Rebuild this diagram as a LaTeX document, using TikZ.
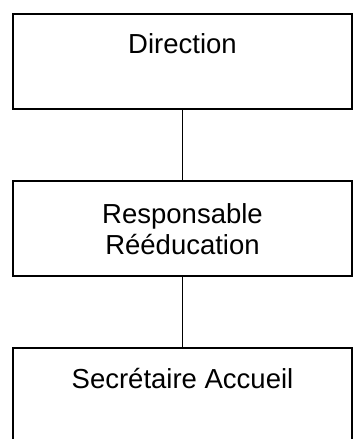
\documentclass[tikz,border=0pt]{standalone}
\usepackage{fontspec}
\setmainfont{Liberation Sans}
\begin{document}
\begin{tikzpicture}[x=1pt,y=-1pt,
  orgbox/.style={draw=black, line width=1.4pt, minimum width=339pt, minimum height=95pt, inner sep=0pt},
  label/.style={inner sep=0pt, align=center, font=\fontsize{27.5}{31}\selectfont},
  link/.style={draw=black, line width=1.4pt}]
\useasboundingbox (0,0) rectangle (364,439);
\node[orgbox] (A) at (182.5,61.5) {};
\node[label] (a) at (182.5,44) {Direction};
\node[orgbox] (B) at (182.5,228.5) {};
\node[label] (b) at (182.5,229) {Responsable\\Rééducation};
\coordinate (C) at (182.5,348);
\coordinate (Cl) at (13,348);
\coordinate (Cr) at (352,348);
\draw[link] (13,445) -- (Cl) -- (Cr) -- (352,445);
\node[label] (c) at (182.5,379) {Secrétaire Accueil};
\draw[link] (A.south) -- (B.north);
\draw[link] (B.south) -- (C);
\end{tikzpicture}
\end{document}
